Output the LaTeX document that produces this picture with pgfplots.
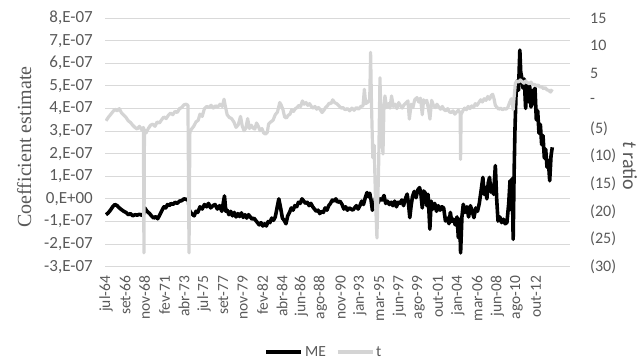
\documentclass[border=0pt]{standalone}
\usepackage{pgfplots}
\pgfplotsset{compat=1.18}
\usepackage{fontspec}
\setmainfont{Carlito}
\newfontfamily\titlefont{Liberation Serif}
\definecolor{txt}{HTML}{595959}
\definecolor{grd}{HTML}{D9D9D9}
\definecolor{tgray}{HTML}{D4D4D4}
\begin{document}
\begin{tikzpicture}
\useasboundingbox (0,0) rectangle (641bp,359bp);
\begin{axis}[
  at={(105bp,92.3bp)}, anchor=south west,
  scale only axis, width=465bp, height=248.7bp,
  xmin=1964.39, xmax=2016.58, ymin=-3, ymax=8,
  axis line style={draw=none}, tick style={draw=none},
  ytick={-3,-2,-1,0,1,2,3,4,5,6,7,8},
  yticklabels={{-3,E-07},{-2,E-07},{-1,E-07},{0,E+00},{1,E-07},{2,E-07},{3,E-07},{4,E-07},{5,E-07},{6,E-07},{7,E-07},{8,E-07}},
  ymajorgrids, grid style={grd, line width=0.8bp},
  xtick={1964.50,1966.67,1968.83,1971.08,1973.25,1975.50,1977.67,1979.83,1982.08,1984.25,1986.42,1988.58,1990.83,1993.00,1995.17,1997.42,1999.58,2001.75,2004.00,2006.17,2008.42,2010.58,2012.75},
  xticklabels={jul-64,set-66,nov-68,fev-71,abr-73,jul-75,set-77,nov-79,fev-82,abr-84,jun-86,ago-88,nov-90,jan-93,mar-95,jun-97,ago-99,out-01,jan-04,mar-06,jun-08,ago-10,out-12},
  xticklabel style={yshift=-9bp, rotate=90, anchor=east, inner sep=0pt, font=\fontsize{15.5bp}{18bp}\selectfont, text=txt},
  yticklabel style={xshift=-12bp, anchor=east, inner sep=0pt, font=\fontsize{17bp}{20bp}\selectfont, text=txt},
  ylabel={Coefficient estimate},
  ylabel style={at={(-0.174,0.481)}, anchor=center, rotate=0, font=\titlefont\fontsize{20bp}{24bp}\selectfont, text=txt},
]
\addplot[black, line width=3.6bp, line join=round] coordinates {
(1964.50,-0.70)(1964.75,-0.62)(1965.00,-0.50)(1965.25,-0.35)(1965.50,-0.25)(1965.75,-0.30)(1966.00,-0.40)(1966.25,-0.48)(1966.50,-0.55)(1966.75,-0.60)(1967.00,-0.70)(1967.25,-0.65)(1967.50,-0.75)(1967.75,-0.70)(1968.00,-0.72)(1968.25,-0.68)(1968.50,-0.72)(1968.70,-0.70)(1968.85,-0.40)(1969.10,-0.55)(1969.40,-0.65)(1969.60,-0.75)(1969.85,-0.85)(1970.10,-0.78)(1970.30,-0.88)(1970.55,-0.70)(1970.80,-0.50)(1971.00,-0.35)(1971.20,-0.40)(1971.40,-0.25)(1971.60,-0.30)(1971.80,-0.20)(1972.00,-0.25)(1972.25,-0.15)(1972.50,-0.20)(1972.75,-0.10)(1973.00,-0.08)(1973.25,0.00)(1973.50,-0.02)(1973.75,-0.05)(1973.85,-0.50)(1974.10,-0.65)(1974.40,-0.75)(1974.60,-0.55)(1974.80,-0.60)(1975.05,-0.35)(1975.30,-0.45)(1975.55,-0.25)(1975.80,-0.35)(1976.00,-0.20)(1976.25,-0.40)(1976.50,-0.30)(1976.75,-0.25)(1977.00,-0.45)(1977.25,-0.30)(1977.50,-0.55)(1977.80,0.13)(1977.95,-0.55)
(1978.10,-0.50)(1978.30,-0.70)(1978.50,-0.55)(1978.70,-0.75)(1978.90,-0.60)(1979.10,-0.80)(1979.30,-0.65)(1979.50,-0.78)(1979.70,-0.62)(1979.90,-0.82)(1980.10,-0.70)(1980.30,-0.85)(1980.50,-0.70)(1980.70,-0.80)(1980.90,-0.90)(1981.10,-0.85)(1981.30,-0.95)(1981.50,-1.05)(1981.70,-1.15)(1981.90,-1.05)(1982.10,-1.20)(1982.30,-1.10)(1982.50,-1.20)(1982.70,-1.00)(1982.90,-1.05)(1983.10,-0.85)(1983.30,-0.95)(1983.50,-0.80)(1983.75,-0.30)(1983.90,0.00)(1984.10,-0.40)(1984.30,-0.85)(1984.50,-0.95)(1984.70,-1.10)(1984.90,-0.75)(1985.10,-0.60)(1985.30,-0.40)(1985.50,-0.50)(1985.70,-0.30)(1985.90,-0.35)(1986.10,-0.15)(1986.30,-0.20)(1986.50,0.00)(1986.70,-0.10)(1986.90,-0.20)(1987.10,-0.15)(1987.30,-0.30)(1987.50,-0.20)(1987.70,-0.35)(1987.90,-0.45)(1988.10,-0.55)(1988.30,-0.50)(1988.50,-0.65)(1988.70,-0.55)(1988.90,-0.60)(1989.10,-0.40)(1989.30,-0.50)(1989.50,-0.30)(1989.70,-0.20)(1989.90,-0.05)(1990.10,-0.10)(1990.30,0.00)(1990.50,-0.15)(1990.75,-0.10)
(1991.00,-0.25)(1991.20,-0.45)(1991.40,-0.35)(1991.60,-0.50)(1991.80,-0.40)(1992.00,-0.45)(1992.20,-0.50)(1992.40,-0.40)(1992.60,-0.30)(1992.80,-0.45)(1993.00,-0.30)(1993.20,-0.10)(1993.40,-0.25)(1993.60,0.05)(1993.80,0.28)(1993.95,0.10)(1994.10,0.25)(1994.25,-0.05)(1994.40,-0.50)(1994.60,-0.30)(1994.80,0.10)(1995.00,-0.20)(1995.25,0.00)(1995.50,-0.05)(1995.70,0.15)(1995.90,-0.20)(1996.10,-0.10)(1996.30,-0.25)(1996.50,-0.15)(1996.70,-0.30)(1996.90,-0.10)(1997.10,-0.35)(1997.30,-0.15)(1997.50,-0.20)(1997.70,-0.05)(1997.90,-0.30)(1998.10,0.00)(1998.30,0.21)(1998.45,-0.20)(1998.60,-0.83)(1998.75,-0.30)(1998.90,0.10)(1999.10,0.33)(1999.30,0.05)(1999.50,0.40)(1999.70,0.50)(1999.85,0.20)(2000.00,-0.40)(2000.15,0.35)(2000.35,0.25)(2000.50,-0.30)(2000.65,0.20)(2000.85,-1.34)(2001.00,-0.10)(2001.20,-0.45)(2001.40,-0.20)(2001.60,-0.55)(2001.80,-0.30)(2002.00,-0.50)(2002.20,-0.35)(2002.40,-0.40)(2002.60,-0.98)(2002.80,-0.85)(2003.00,-1.10)(2003.15,-0.60)(2003.30,-1.00)(2003.50,-0.90)(2003.70,-1.15)(2003.90,-0.80)
(2004.05,-1.72)(2004.20,-0.90)(2004.30,-2.39)(2004.45,-0.80)(2004.60,-0.24)(2004.80,-0.60)(2005.00,-0.35)(2005.20,-0.80)(2005.40,-0.30)(2005.60,-0.55)(2005.80,-0.83)(2006.00,-0.40)(2006.20,-0.55)(2006.40,-0.20)(2006.60,0.36)(2006.80,0.95)(2006.95,0.20)(2007.10,0.50)(2007.25,0.00)(2007.40,0.70)(2007.55,0.95)(2007.70,0.30)(2007.85,0.60)(2008.00,0.20)(2008.20,1.47)(2008.35,0.00)(2008.50,-0.98)(2008.70,-0.80)(2008.90,-1.05)(2009.10,-0.90)(2009.30,-1.10)(2009.50,-1.05)(2009.70,-0.20)(2009.85,0.80)(2010.00,-0.50)(2010.10,0.90)(2010.20,-1.79)(2010.30,1.00)(2010.40,3.02)(2010.55,5.00)(2010.70,5.24)(2010.80,4.80)(2010.95,6.58)(2011.05,5.60)(2011.15,5.40)(2011.30,4.90)(2011.45,5.30)(2011.60,4.00)(2011.75,5.10)(2011.90,4.30)(2012.05,5.00)(2012.20,4.06)(2012.35,4.80)(2012.50,4.20)(2012.65,4.90)(2012.80,3.50)(2012.95,3.90)(2013.10,2.90)(2013.25,3.30)(2013.40,2.40)(2013.55,2.80)(2013.70,1.80)(2013.85,2.20)(2014.00,1.40)(2014.15,1.70)(2014.30,0.80)(2014.45,1.90)(2014.59,2.28)
};
\end{axis}
\begin{axis}[
  at={(105bp,92.3bp)}, anchor=south west,
  scale only axis, width=465bp, height=248.7bp,
  xmin=1964.39, xmax=2016.58, ymin=-30, ymax=15,
  axis x line=none, axis y line*=right,
  axis line style={draw=none}, tick style={draw=none},
  ytick={-30,-25,-20,-15,-10,-5,0,5,10,15},
  yticklabels={(30),(25),(20),(15),(10),(5),-,5,10,15},
  yticklabel style={xshift=20bp, anchor=west, inner sep=0pt, font=\fontsize{16bp}{19bp}\selectfont, text=txt},
  ylabel={\textit{t} ratio},
  ylabel style={at={(1.129,0.405)}, anchor=center, rotate=180, font=\fontsize{20bp}{24bp}\selectfont, text=txt},
  legend style={at={(0.471,-0.343)}, anchor=center, draw=none, fill=none, legend columns=2, font=\fontsize{15.5bp}{18bp}\selectfont, text=txt, /tikz/every even column/.append style={column sep=8bp}},
  legend image code/.code={\draw[#1] (0bp,0bp) -- (35bp,0bp);},
]
\addlegendimage{black, line width=3.6bp}
\addlegendentry{ME}
\addplot[tgray, line width=3.2bp, line join=round] coordinates {
(1964.50,-3.6)(1964.75,-3.0)(1965.00,-2.5)(1965.25,-2.0)(1965.50,-1.5)(1965.75,-1.8)(1966.00,-1.4)(1966.25,-2.2)(1966.50,-2.6)(1966.75,-3.0)(1967.00,-3.6)(1967.25,-3.9)(1967.50,-4.4)(1967.75,-4.8)(1968.00,-5.1)(1968.25,-4.6)(1968.50,-5.2)(1968.70,-4.8)(1968.76,-27.5)(1968.82,-5.2)(1969.00,-5.8)(1969.25,-5.0)(1969.50,-4.4)(1969.75,-4.2)(1970.00,-4.6)(1970.25,-3.8)(1970.50,-4.0)(1970.75,-3.4)(1971.00,-2.9)(1971.25,-3.2)(1971.50,-2.6)(1971.75,-2.2)(1972.00,-2.5)(1972.25,-1.9)(1972.50,-2.1)(1972.75,-1.4)(1973.00,-1.2)(1973.25,-0.7)(1973.50,-0.6)(1973.70,-0.8)(1973.82,-27.5)(1973.92,-5.6)(1974.10,-5.1)(1974.35,-4.6)(1974.60,-3.8)(1974.85,-3.5)(1975.05,-2.4)(1975.30,-2.8)(1975.55,-1.4)(1975.80,-1.0)(1976.05,-1.2)(1976.30,-0.8)(1976.55,-1.3)(1976.80,-0.9)(1977.05,-1.1)(1977.30,-0.6)(1977.55,-1.0)(1977.75,0.3)(1977.90,-1.0)
(1978.10,-2.5)(1978.35,-3.0)(1978.60,-3.2)(1978.85,-3.8)(1979.10,-4.8)(1979.35,-4.3)(1979.60,-2.8)(1979.80,-4.6)(1980.00,-5.4)(1980.20,-4.9)(1980.40,-3.2)(1980.60,-5.0)(1980.80,-4.4)(1981.00,-4.9)(1981.20,-5.1)(1981.40,-4.0)(1981.60,-4.6)(1981.80,-5.4)(1982.00,-5.0)(1982.20,-5.8)(1982.40,-6.0)(1982.60,-5.7)(1982.75,-4.2)(1983.00,-3.8)(1983.25,-3.5)(1983.50,-2.5)(1983.75,-2.0)(1984.00,-0.3)(1984.15,-0.7)(1984.35,-1.5)(1984.55,-2.9)(1984.75,-3.1)(1984.95,-2.6)(1985.15,-2.4)(1985.35,-1.6)(1985.55,-1.9)(1985.75,-1.4)(1985.95,-1.2)(1986.15,-0.8)(1986.35,-1.0)(1986.55,0.0)(1986.75,-0.6)(1986.95,-0.3)(1987.15,-0.8)(1987.35,-0.5)(1987.55,-1.0)(1987.75,-1.3)(1987.95,-1.0)(1988.15,-1.5)(1988.35,-1.2)(1988.55,-1.6)(1988.75,-2.1)(1988.95,-1.7)(1989.15,-1.2)(1989.35,-0.9)(1989.55,-0.4)(1989.75,-0.5)(1989.95,0.2)(1990.15,-0.3)(1990.40,-0.5)(1990.65,-0.9)(1990.90,-1.3)
(1991.10,-1.2)(1991.35,-1.6)(1991.60,-1.4)(1991.85,-1.8)(1992.10,-1.3)(1992.35,-1.7)(1992.60,-1.2)(1992.85,-1.5)(1993.10,-1.0)(1993.35,-0.9)(1993.50,2.1)(1993.65,-0.5)(1993.90,-0.2)(1994.10,0.3)(1994.20,8.8)(1994.30,-0.6)(1994.45,-10.3)(1994.60,-8.0)(1994.75,-18.0)(1994.91,-24.8)(1995.00,-18.7)(1995.10,-12.0)(1995.25,4.2)(1995.40,-5.0)(1995.59,-9.6)(1995.70,-1.0)(1995.81,0.9)(1996.00,-1.2)(1996.20,-0.5)(1996.37,-1.3)(1996.55,0.9)(1996.75,-1.0)(1996.95,-0.6)(1997.15,-1.4)(1997.35,-0.3)(1997.55,-0.9)(1997.75,-1.3)(1997.95,-0.7)(1998.15,-0.4)(1998.39,0.0)(1998.55,-3.3)(1998.75,-0.6)(1998.95,-1.2)(1999.15,0.2)(1999.40,0.6)(1999.60,-0.2)(1999.80,0.5)(2000.00,-2.5)(2000.15,0.2)(2000.30,-0.3)(2000.50,0.1)(2000.70,-1.5)(2000.86,-3.3)(2001.05,0.1)(2001.25,-0.8)(2001.45,-1.2)(2001.65,-0.6)(2001.85,-1.1)(2002.05,-1.5)(2002.25,-1.0)(2002.45,-1.6)(2002.65,-1.8)(2002.85,-1.4)(2003.05,-2.0)(2003.25,-2.1)(2003.45,-1.8)(2003.65,-2.4)(2003.85,-2.0)
(2004.05,-1.7)(2004.25,-2.2)(2004.30,-10.6)(2004.36,-2.4)(2004.55,-1.8)(2004.75,-1.3)(2004.95,-1.6)(2005.15,-1.0)(2005.35,-1.4)(2005.55,-0.9)(2005.75,-1.2)(2005.95,-0.5)(2006.15,-0.8)(2006.35,-0.3)(2006.55,0.2)(2006.75,-0.2)(2006.95,0.4)(2007.15,0.1)(2007.35,0.8)(2007.55,0.3)(2007.75,1.0)(2007.90,1.2)(2008.05,0.4)(2008.20,-0.8)(2008.40,-1.2)(2008.60,-1.5)(2008.80,-1.3)(2009.00,-1.6)(2009.20,-1.4)(2009.40,-1.5)(2009.60,-1.2)(2009.80,-0.3)(2010.00,0.4)(2010.10,-0.2)(2010.20,-1.6)(2010.30,0.5)(2010.45,3.2)(2010.60,3.6)(2010.80,3.4)(2011.00,3.8)(2011.20,3.5)(2011.40,3.2)(2011.60,3.6)(2011.80,3.3)(2012.00,3.1)(2012.20,3.4)(2012.40,2.9)(2012.60,3.0)(2012.80,2.7)(2013.00,2.9)(2013.20,2.5)(2013.40,2.6)(2013.60,2.2)(2013.80,2.4)(2014.00,2.0)(2014.20,1.9)(2014.40,1.6)(2014.59,2.1)
};
\addlegendentry{t}
\end{axis}
\end{tikzpicture}
\end{document}
